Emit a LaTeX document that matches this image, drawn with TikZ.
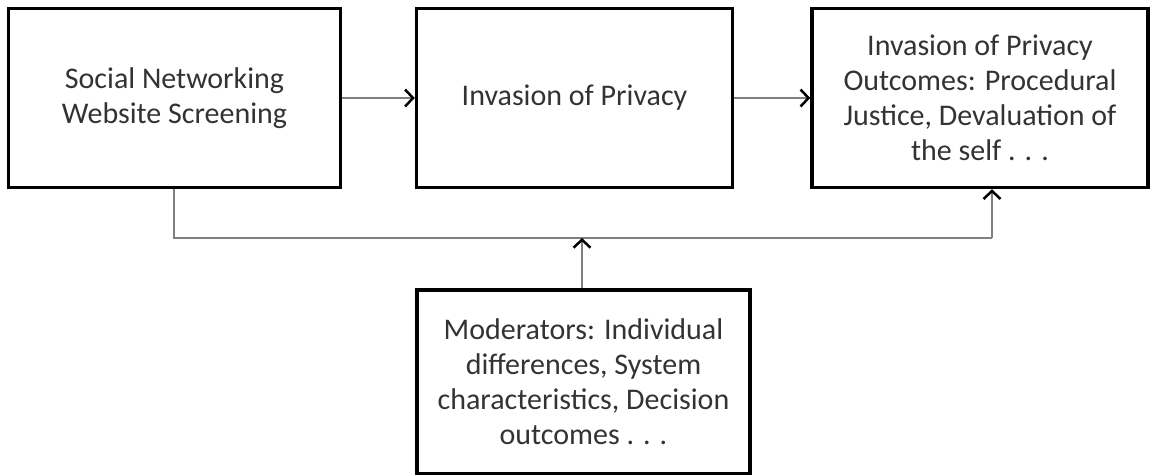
\documentclass[tikz,border=0pt]{standalone}
\usepackage{fontspec}
\setmainfont{Carlito}
\usetikzlibrary{arrows.meta}
\begin{document}
\begin{tikzpicture}[x=1pt,y=-1pt,
  boxstyle/.style={draw=black,line width=3.5pt,align=center,inner sep=0pt,
    font=\fontsize{30}{35}\selectfont,text=black!80},
  conn/.style={draw=black!50,line width=2.5pt},
  tip/.style={-{Straight Barb[length=8pt,width=17pt,line width=2.5pt,color=black]}}]
\useasboundingbox (0,0) rectangle (1154,474);
\node[boxstyle,minimum width=332pt,minimum height=179pt] (a) at (174.5,98) {Social Networking\\Website Screening};
\node[boxstyle,minimum width=316pt,minimum height=179pt] (b) at (574.5,98) {Invasion of Privacy};
\node[boxstyle,minimum width=336pt,minimum height=179pt] (c) at (980,98) {Invasion of Privacy\\Outcomes: Procedural\\Justice, Devaluation of\\the self . . .};
\node[boxstyle,minimum width=333pt,minimum height=184pt] (d) at (583.5,382) {Moderators: Individual\\differences, System\\characteristics, Decision\\outcomes . . .};
\coordinate (j1) at (174,238);
\coordinate (j2) at (992,238);
\coordinate (j3) at (582,238);
\draw[conn,tip] (a.east) -- (b.west);
\draw[conn,tip] (b.east) -- (c.west);
\draw[conn] (a.south -| j1) -- (j1) -- (j2);
\draw[conn,tip] (j2) -- (c.south -| j2);
\draw[conn,tip] (d.north -| j3) -- (j3);
\end{tikzpicture}
\end{document}
